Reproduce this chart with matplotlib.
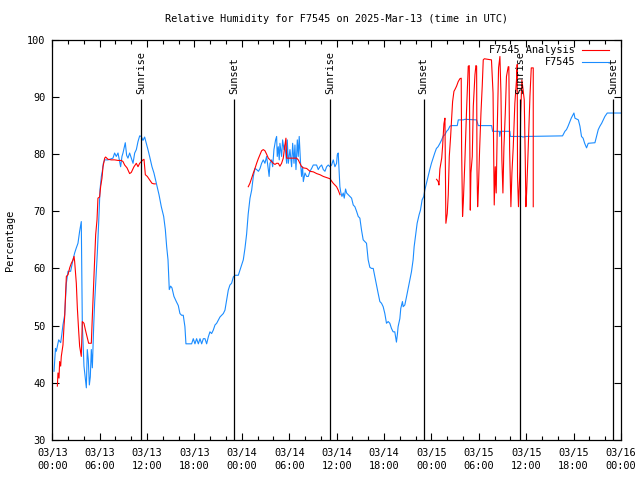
import numpy as np
import pandas as pd
import matplotlib
matplotlib.use('Agg')
import matplotlib.pyplot as plt
import matplotlib.dates as mdates

# time axis: hours after 2025-03-13 00:00 UTC
start = pd.Timestamp('2025-03-13 00:00')

# F7545 observations
obs_hours = [0.22, 0.40, 0.51, 0.81, 1.06, 1.20, 1.35, 1.57, 1.78, 1.99, 2.32, 2.62, 2.83, 3.04, 3.25, 3.46,
             3.67, 3.80, 4.01, 4.18, 4.31, 4.43, 4.56, 4.69, 4.81, 4.94, 5.07, 5.24, 5.36, 5.57, 5.70, 5.87,
             6.04, 6.21, 6.33, 6.46, 6.63, 7.05, 7.68, 7.89, 8.10, 8.32, 8.65, 8.82, 8.95, 9.24, 9.41, 9.58,
             9.79, 10.00, 10.22, 10.43, 10.64, 10.85, 11.06, 11.27, 11.48, 11.69, 11.90, 12.11, 12.32, 12.62,
             12.87, 13.17, 13.51, 13.80, 14.10, 14.31, 14.48, 14.65, 14.81, 14.98, 15.15, 15.40, 15.70, 15.95,
             16.16, 16.37, 16.58, 16.79, 16.92, 17.64, 17.85, 18.06, 18.27, 18.49, 18.70, 18.91, 19.12, 19.33,
             19.54, 19.75, 19.96, 20.17, 20.38, 20.60, 20.81, 21.23, 21.44, 21.65, 21.86, 22.07, 22.28, 22.49,
             22.70, 22.92, 23.13, 23.55, 23.76, 23.97, 24.18, 24.39, 24.60, 24.80, 25.03, 25.24, 25.45, 25.66,
             25.87, 26.10, 26.30, 26.50, 26.71, 26.92, 27.13, 27.35, 27.45, 27.56, 27.77, 27.90, 28.06, 28.27,
             28.40, 28.48, 28.61, 28.73, 28.82, 29.03, 29.16, 29.33, 29.45, 29.67, 29.75, 29.88, 30.09, 30.30,
             30.43, 30.60, 30.72, 30.85, 31.02, 31.14, 31.26, 31.43, 31.56, 31.69, 31.78, 31.99, 32.20, 32.41,
             32.62, 32.83, 33.04, 33.25, 33.46, 33.67, 33.88, 34.10, 34.31, 34.52, 34.73, 34.94, 35.15, 35.36,
             35.57, 35.78, 35.99, 36.08, 36.20, 36.33, 36.41, 36.54, 36.67, 36.83, 36.96, 37.13, 37.26, 37.47,
             37.68, 37.89, 38.10, 38.31, 38.52, 38.73, 38.94, 39.15, 39.36, 39.57, 39.78, 39.99, 40.20, 40.41,
             40.63, 40.84, 41.05, 41.26, 41.47, 41.68, 41.89, 42.10, 42.31, 42.52, 42.73, 42.94, 43.15, 43.36,
             43.57, 43.70, 43.78, 44.00, 44.12, 44.33, 44.42, 44.63, 44.84, 45.05, 45.26, 45.47, 45.68, 45.81,
             46.02, 46.19, 46.44, 46.61, 46.82, 47.03, 47.16, 47.37, 47.58, 47.79, 48.00, 48.21, 48.42, 48.63,
             48.84, 49.08, 49.29, 49.50, 49.71, 49.92, 50.13, 50.34, 50.55, 51.27, 51.40, 52.03, 52.24, 53.72,
             53.93, 55.62, 55.74, 56.60, 56.65, 56.75, 57.93, 58.00, 59.41, 59.60, 60.00, 64.60, 64.90, 65.10,
             65.30, 65.53, 65.70, 66.04, 66.17, 66.60, 66.80, 67.00, 67.20, 67.40, 67.64, 67.85, 68.70, 68.90,
             69.12, 69.33, 69.55, 69.75, 69.96, 70.26, 72.00]
obs_rh = [42.0, 46.0, 45.5, 47.5, 47.0, 48.4, 50.1, 51.9, 57.4, 59.5, 59.5, 61.5, 62.7, 63.6, 64.4, 66.5,
          68.2, 50.2, 42.9, 40.8, 39.1, 45.8, 44.0, 39.6, 41.0, 45.8, 42.6, 49.9, 54.0, 59.4, 62.7, 68.0,
          73.8, 76.1, 77.0, 78.4, 79.0, 79.0, 79.3, 80.2, 79.6, 80.2, 77.8, 79.6, 80.2, 82.0, 79.8, 79.3,
          80.2, 79.3, 78.4, 80.2, 80.8, 82.2, 83.2, 83.1, 82.4, 83.0, 81.9, 80.8, 79.6, 77.8,
          76.7, 74.9, 72.9, 70.8, 69.1, 66.8, 63.8, 61.5, 56.3, 56.9, 56.6, 55.1, 54.2, 53.5,
          52.1, 51.8, 51.8, 49.8, 46.8, 46.8, 47.7, 46.8, 47.7, 46.8, 47.7, 46.8, 47.7, 47.7,
          46.8, 48.0, 48.9, 48.6, 49.2, 50.1, 50.4, 51.5, 51.8, 52.1, 52.7, 54.4, 56.2, 57.1,
          57.4, 58.5, 58.8, 58.8, 59.7, 60.6, 61.5, 63.5, 66.0, 69.5, 72.3, 73.7, 76.1, 77.5,
          77.3, 77.0, 77.5, 78.4, 79.0, 78.4, 79.6, 77.3, 76.1, 78.4, 79.0, 77.8, 80.8, 82.5,
          83.1, 79.6, 81.3, 79.0, 81.9, 79.6, 82.5, 80.8, 81.6, 78.4, 82.5, 78.4, 80.8, 77.8,
          81.9, 78.4, 81.6, 77.3, 82.5, 79.6, 83.1, 78.4, 76.1, 77.8, 75.2, 76.7, 76.1, 76.1,
          77.0, 77.5, 78.1, 78.1, 78.1, 77.3, 77.8, 78.1, 77.3, 77.0, 77.8, 78.1, 77.8, 78.1,
          79.0, 77.8, 78.4, 79.9, 80.2, 76.7, 74.3, 73.2, 72.6, 73.2, 72.3, 73.9, 73.2, 72.9,
          72.6, 72.3, 71.1, 70.8, 70.0, 69.1, 68.8, 66.7, 65.0, 64.7, 64.4, 61.5, 60.2, 60.0,
          60.0, 58.5, 57.1, 55.6, 54.2, 53.9, 53.3, 52.1, 50.4, 50.7, 50.4, 49.5, 48.9, 48.9,
          47.1, 48.6, 49.8, 51.2, 53.0, 54.2, 53.3, 53.6, 55.0, 56.5, 58.0, 59.4, 61.5, 63.8,
          66.1, 67.9, 69.4, 70.2, 72.0, 72.6, 73.7, 74.9, 76.1, 77.3, 78.4, 79.3, 80.2, 81.0,
          81.3, 81.9, 82.5, 83.2, 83.4, 84.0, 84.3, 84.9, 85.0, 85.0, 86.0, 86.0, 86.1, 86.0,
          85.0, 85.0, 84.0, 84.0, 83.1, 84.0, 84.0, 83.1, 83.1, 83.0, 83.1, 83.2, 84.0, 84.3,
          84.9, 85.7, 86.3, 87.2, 86.3, 86.0, 84.9, 83.1, 82.8, 81.9, 81.1, 81.9, 82.0, 83.1,
          84.3, 84.9, 85.4, 86.0, 86.6, 87.2, 87.2]

# F7545 Analysis, three separate runs
ana1_hours = [0.64, 0.72, 0.85, 0.93, 1.06, 1.14, 1.35, 1.48, 1.57, 1.65, 1.78, 1.99, 2.20, 2.41, 2.62, 2.75,
              2.83, 3.04, 3.17, 3.34, 3.46, 3.67, 3.80, 4.01, 4.18, 4.39, 4.60, 4.94, 5.07, 5.24, 5.36, 5.49,
              5.66, 5.78, 5.99, 6.12, 6.29, 6.42, 6.63, 6.75, 7.05, 7.47, 7.89, 8.32, 8.74, 8.95, 9.16, 9.46,
              9.79, 10.00, 10.34, 10.64, 10.85, 11.06, 11.27, 11.48, 11.61, 11.78, 12.03, 12.32, 12.62, 12.87,
              13.04]
ana1_rh = [39.4, 41.7, 40.8, 43.7, 42.9, 44.6, 46.6, 49.9, 51.6, 54.5, 58.6, 58.9, 60.1, 60.9, 61.5, 62.1,
           61.2, 57.4, 53.1, 49.0, 46.4, 44.6, 50.7, 50.4, 49.3, 48.1, 46.9, 46.9, 51.6, 57.4, 61.5, 65.9,
           68.5, 72.3, 72.5, 74.3, 75.8, 77.8, 79.3, 79.5, 79.1, 79.0, 79.0, 78.9, 78.9, 78.7, 78.1, 77.6,
           76.6, 76.8, 77.8, 78.4, 77.8, 78.4, 78.7, 79.0, 79.1, 76.4, 76.1, 75.5, 74.9, 74.8,
           74.8]

ana2_hours = [24.81, 25.02, 25.24, 25.45, 25.66, 25.87, 26.08, 26.29, 26.50, 26.71, 26.92, 27.13, 27.35, 27.56,
              27.77, 27.98, 28.19, 28.40, 28.61, 28.82, 29.03, 29.24, 29.45, 29.58, 29.67, 29.88, 30.51, 30.93,
              31.14, 31.35, 31.57, 31.78, 32.20, 32.62, 33.05, 33.47, 33.89, 34.31, 34.73, 35.15, 35.57, 35.99,
              36.20, 36.42]
ana2_rh = [74.3, 74.9, 75.8, 76.7, 77.5, 78.4, 79.2, 79.9, 80.6, 80.8, 80.6, 80.0, 79.3, 79.0,
           78.7, 78.4, 78.2, 78.4, 78.4, 77.9, 78.4, 79.3, 81.6, 82.8, 79.3, 79.3, 79.3, 79.3,
           79.0, 78.4, 77.8, 77.6, 77.5, 77.0, 76.9, 76.6, 76.4, 76.1, 75.9, 75.7, 74.9, 74.3,
           73.7, 72.9]

ana3_hours = [48.65, 48.86, 48.95, 49.07, 49.30, 49.41, 49.58, 49.71, 49.83, 50.00, 50.13, 50.26, 50.43, 50.55,
              50.68, 50.85, 50.97, 51.18, 51.39, 51.60, 51.77, 51.82, 51.94, 52.03, 52.24, 52.45, 52.66, 52.79,
              52.92, 53.00, 53.17, 53.30, 53.51, 53.63, 53.72, 53.77, 53.85, 53.93, 54.10, 54.27, 54.43, 54.56,
              54.70, 55.60, 55.80, 55.95, 56.08, 56.20, 56.33, 56.50, 56.67, 56.80, 56.92, 57.05, 57.18, 57.35,
              57.50, 57.72, 57.80, 57.90, 58.06, 58.19, 58.36, 58.56, 58.77, 58.86, 58.90, 59.02, 59.20, 59.30,
              59.45, 59.60, 59.75, 59.88, 59.96, 60.05, 60.26, 60.47, 60.64, 60.89, 60.89]
ana3_rh = [75.6, 75.2, 74.6, 77.4, 79.3, 81.3, 85.3, 86.3, 67.9, 69.6, 72.9, 79.6, 83.1, 86.1,
           89.2, 91.0, 91.3, 91.9, 92.7, 93.2, 93.3, 81.1, 69.1, 71.4, 79.0, 87.8, 95.4, 95.5,
           70.2, 76.7, 79.6, 88.4, 93.9, 95.5, 95.4, 77.3, 70.8, 73.2, 80.8, 87.2, 91.9, 96.5,
           96.7, 96.5, 90.7, 71.1, 77.8, 73.2, 84.3, 95.1, 97.1, 90.7, 79.0, 73.2, 81.3, 87.2,
           93.6, 95.3, 95.3, 80.8, 70.8, 76.7, 81.3, 88.9, 93.0, 95.7, 76.1, 70.8, 77.0, 87.2,
           93.0, 91.3, 89.5, 79.0, 70.8, 73.2, 81.3, 90.1, 95.1, 95.1, 70.8]

sun_events = ['Sunrise', 'Sunset', 'Sunrise', 'Sunset', 'Sunrise', 'Sunset']
sun_hours = [11.25, 23.0, 35.2, 47.0, 59.2, 71.0]


def to_time(hours):
    return (start + pd.to_timedelta(np.asarray(hours), unit='h')).to_numpy()


plt.rcParams['font.family'] = 'DejaVu Sans Mono'
plt.rcParams['font.size'] = 7.4

fig = plt.figure(figsize=(6.4, 4.8), dpi=100)
ax = fig.add_axes([52.3 / 640, 1 - 439.8 / 480, 568.7 / 640, 399.9 / 480])

red = '#ff0000'
blue = '#1a8cff'
lw = 0.8

for h, v in [(ana1_hours, ana1_rh), (ana2_hours, ana2_rh), (ana3_hours, ana3_rh)]:
    ax.plot(to_time(h), v, color=red, lw=lw, zorder=3)
ax.plot(to_time(obs_hours), obs_rh, color=blue, lw=lw, zorder=2)

# sunrise / sunset markers
for name, h in zip(sun_events, sun_hours):
    t = to_time([h])[0]
    ax.vlines(t, 30, 89.7, color='black', lw=0.9, zorder=4)
    ax.text(t, 90.6, name, rotation=90, ha='center', va='bottom', zorder=5)

ax.set_xlim(to_time([0])[0], to_time([72])[0])
ax.set_ylim(30, 100)
ax.set_yticks(range(30, 101, 10))

ax.xaxis.set_major_locator(mdates.HourLocator(byhour=[0, 6, 12, 18]))
ax.xaxis.set_minor_locator(mdates.HourLocator(byhour=range(0, 24, 2)))
ax.xaxis.set_major_formatter(mdates.DateFormatter('%m/%d\n%H:%M'))
for lab in ax.get_xticklabels():
    lab.set_linespacing(1.4)

ax.tick_params(which='both', direction='in', top=True, right=True, width=0.8)
ax.tick_params(which='major', length=5)
ax.tick_params(which='minor', length=3)
ax.tick_params(axis='x', pad=6)
ax.tick_params(axis='y', pad=5)
for sp in ax.spines.values():
    sp.set_linewidth(0.9)

# legend drawn by hand, gnuplot style (text right-aligned, sample on the right)
for i, (label, col) in enumerate([('F7545 Analysis', red), ('F7545', blue)]):
    y = 0.9747 - i * 0.030
    ax.text(0.9195, y, label, transform=ax.transAxes, ha='right', va='center', zorder=6)
    ax.plot([0.9315, 0.979], [y, y], transform=ax.transAxes, color=col, lw=lw, zorder=6)

fig.text(336.7 / 640, 1 - 19 / 480, 'Relative Humidity for F7545 on 2025-Mar-13 (time in UTC)',
         ha='center', va='center')
fig.text(10 / 640, 0.5, 'Percentage', rotation=90, ha='center', va='center')

fig.savefig('out.png', dpi=100)
